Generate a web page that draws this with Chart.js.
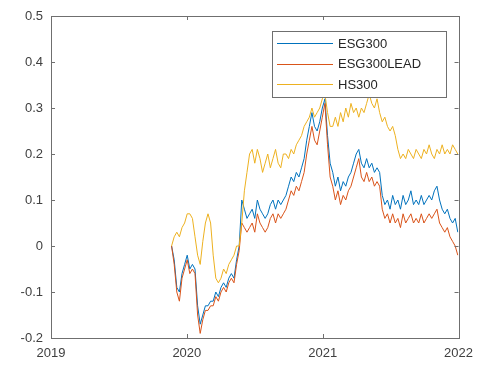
<!DOCTYPE html>
<html>
<head>
<meta charset="utf-8">
<script src="https://cdn.jsdelivr.net/npm/chart.js@4/dist/chart.umd.min.js"></script>
<style>
  html, body { margin: 0; padding: 0; background: #fff; }
  #wrap { width: 481px; height: 372px; }
</style>
</head>
<body>
<div id="wrap"><canvas id="c" width="481" height="372"></canvas></div>
<script>
// Weekly cumulative returns, starting 2019-11-21
const startDate = '2019-11-21';
const seriesNames = ['ESG300', 'ESG300LEAD', 'HS300'];

const esg300 = [
  0.00, -0.03, -0.09, -0.10, -0.06, -0.04, -0.02, -0.05, -0.04, -0.05,
  -0.13, -0.17, -0.15, -0.13, -0.13, -0.12, -0.12, -0.10, -0.11, -0.09,
  -0.08, -0.09, -0.07, -0.06, -0.07, -0.03, 0.00, 0.10, 0.08, 0.06,
  0.07, 0.08, 0.06, 0.10, 0.08, 0.07, 0.06, 0.07, 0.09, 0.10,
  0.08, 0.10, 0.09, 0.10, 0.11, 0.13, 0.15, 0.14, 0.16, 0.15,
  0.17, 0.19, 0.23, 0.26, 0.29, 0.26, 0.25, 0.27, 0.30, 0.32,
  0.24, 0.18, 0.16, 0.13, 0.15, 0.12, 0.14, 0.13, 0.15, 0.16,
  0.18, 0.20, 0.21, 0.18, 0.17, 0.19, 0.17, 0.18, 0.16, 0.17,
  0.16, 0.11, 0.09, 0.10, 0.08, 0.11, 0.09, 0.10, 0.08, 0.11,
  0.09, 0.10, 0.12, 0.09, 0.10, 0.09, 0.11, 0.09, 0.10, 0.11,
  0.10, 0.12, 0.13, 0.10, 0.08, 0.07, 0.08, 0.06, 0.05, 0.06,
  0.03
];

const esg300Lead = [
  0.00, -0.04, -0.10, -0.12, -0.07, -0.05, -0.03, -0.06, -0.05, -0.06,
  -0.15, -0.19, -0.16, -0.14, -0.14, -0.13, -0.13, -0.11, -0.12, -0.10,
  -0.09, -0.10, -0.08, -0.07, -0.08, -0.04, -0.01, 0.05, 0.04, 0.03,
  0.04, 0.05, 0.03, 0.07, 0.05, 0.04, 0.03, 0.04, 0.06, 0.07,
  0.05, 0.07, 0.06, 0.07, 0.08, 0.10, 0.12, 0.11, 0.13, 0.12,
  0.14, 0.16, 0.20, 0.23, 0.26, 0.23, 0.22, 0.25, 0.28, 0.31,
  0.22, 0.15, 0.13, 0.10, 0.12, 0.09, 0.11, 0.10, 0.12, 0.13,
  0.15, 0.17, 0.19, 0.15, 0.14, 0.16, 0.14, 0.15, 0.13, 0.14,
  0.13, 0.08, 0.06, 0.07, 0.05, 0.07, 0.05, 0.06, 0.04, 0.07,
  0.05, 0.06, 0.07, 0.05, 0.06, 0.05, 0.07, 0.05, 0.06, 0.07,
  0.06, 0.07, 0.08, 0.05, 0.04, 0.03, 0.04, 0.02, 0.01, 0.00,
  -0.02
];

const hs300 = [
  0.00, 0.02, 0.03, 0.02, 0.04, 0.05, 0.07, 0.07, 0.06, 0.02,
  -0.02, -0.04, 0.01, 0.05, 0.07, 0.05, -0.02, -0.07, -0.08, -0.07,
  -0.05, -0.06, -0.04, -0.03, -0.02, 0.00, 0.00, 0.05, 0.12, 0.16,
  0.20, 0.21, 0.18, 0.21, 0.19, 0.16, 0.18, 0.20, 0.17, 0.19,
  0.21, 0.18, 0.17, 0.20, 0.20, 0.19, 0.21, 0.20, 0.22, 0.23,
  0.24, 0.26, 0.27, 0.28, 0.30, 0.28, 0.29, 0.30, 0.32, 0.33,
  0.29, 0.26, 0.26, 0.28, 0.26, 0.29, 0.27, 0.30, 0.28, 0.31,
  0.29, 0.30, 0.28, 0.30, 0.29, 0.31, 0.33, 0.31, 0.30, 0.32,
  0.29, 0.27, 0.28, 0.26, 0.25, 0.26, 0.24, 0.21, 0.19, 0.20,
  0.19, 0.21, 0.20, 0.19, 0.21, 0.20, 0.19, 0.21, 0.20, 0.22,
  0.20, 0.19, 0.21, 0.20, 0.22, 0.20, 0.21, 0.20, 0.22, 0.21,
  0.20
];

const xTicks = [2019, 2020, 2021, 2022];
const yTicks = [-0.2, -0.1, 0, 0.1, 0.2, 0.3, 0.4, 0.5];
const colors = ['#0072BD', '#D95319', '#EDB120'];

// Convert a date to a fractional year for the linear time axis
function yearFraction(d) {
  const y = d.getUTCFullYear();
  const s = Date.UTC(y, 0, 1), e = Date.UTC(y + 1, 0, 1);
  return y + (d.getTime() - s) / (e - s);
}
const t0 = new Date(startDate + 'T00:00:00Z').getTime();
const weekX = esg300.map((_, i) => yearFraction(new Date(t0 + i * 7 * 86400000)));
const toPoints = arr => arr.map((v, i) => ({ x: weekX[i], y: v }));

const allSeries = [esg300, esg300Lead, hs300];

const AXIS = '#6f6f6f';
const TEXT = '#404040';
const FONT = '"Liberation Sans", Arial, sans-serif';

// Box around the axes with inward tick marks on all four sides
const boxPlugin = {
  id: 'box',
  afterDatasetsDraw(chart) {
    const { ctx, chartArea: a, scales } = chart;
    ctx.save();
    ctx.strokeStyle = AXIS;
    ctx.lineWidth = 1;
    ctx.strokeRect(Math.round(a.left) + 0.5, Math.round(a.top) + 0.5,
      Math.round(a.right - a.left), Math.round(a.bottom - a.top));
    const L = 4;
    ctx.beginPath();
    xTicks.forEach(v => {
      const x = Math.round(scales.x.getPixelForValue(v)) + 0.5;
      ctx.moveTo(x, a.bottom); ctx.lineTo(x, a.bottom - L);
      ctx.moveTo(x, a.top); ctx.lineTo(x, a.top + L);
    });
    yTicks.forEach(v => {
      const y = Math.round(scales.y.getPixelForValue(v)) + 0.5;
      ctx.moveTo(a.left, y); ctx.lineTo(a.left + L, y);
      ctx.moveTo(a.right, y); ctx.lineTo(a.right - L, y);
    });
    ctx.stroke();
    ctx.restore();
  },
  afterDraw(chart) {
    // legend box in the upper right of the axes
    const { ctx } = chart;
    const bx = 272, by = 31, bw = 174, bh = 66;
    ctx.save();
    ctx.fillStyle = '#ffffff';
    ctx.fillRect(bx, by, bw, bh);
    ctx.strokeStyle = AXIS;
    ctx.lineWidth = 1;
    ctx.strokeRect(bx + 0.5, by + 0.5, bw, bh);
    ctx.font = '13px ' + FONT;
    ctx.textBaseline = 'middle';
    chart.data.datasets.forEach((ds, i) => {
      const y = by + 12 + i * 20.5;
      ctx.strokeStyle = ds.borderColor;
      ctx.beginPath();
      ctx.moveTo(bx + 5, Math.round(y) + 0.5);
      ctx.lineTo(bx + 61, Math.round(y) + 0.5);
      ctx.stroke();
      ctx.fillStyle = '#262626';
      ctx.fillText(ds.label, bx + 66, y + 1);
    });
    ctx.restore();
  }
};

new Chart(document.getElementById('c'), {
  type: 'line',
  data: {
    datasets: seriesNames.map((name, i) => ({
      label: name,
      data: toPoints(allSeries[i]),
      borderColor: colors[i],
      backgroundColor: colors[i],
      borderWidth: 1,
      pointRadius: 0,
      tension: 0,
      fill: false,
      order: 3 - i
    }))
  },
  options: {
    responsive: false,
    animation: false,
    layout: { padding: { top: 16, right: 21, left: 0, bottom: 0 } },
    plugins: { legend: { display: false }, tooltip: { enabled: false } },
    scales: {
      x: {
        type: 'linear',
        min: 2019, max: 2022,
        afterBuildTicks: s => { s.ticks = xTicks.map(v => ({ value: v })); },
        afterFit: s => { s.height = 34; },
        grid: { display: false, drawTicks: false },
        border: { display: false },
        ticks: {
          padding: 8,
          color: TEXT,
          font: { family: FONT, size: 13 },
          maxRotation: 0,
          callback: v => String(v)
        }
      },
      y: {
        type: 'linear',
        min: -0.2, max: 0.5,
        afterBuildTicks: s => { s.ticks = yTicks.map(v => ({ value: v })); },
        afterFit: s => { s.width = 51; },
        grid: { display: false, drawTicks: false },
        border: { display: false },
        ticks: {
          padding: 8,
          color: TEXT,
          font: { family: FONT, size: 13 },
          callback: v => String(Math.round(v * 10) / 10)
        }
      }
    }
  },
  plugins: [boxPlugin]
});
</script>
</body>
</html>
